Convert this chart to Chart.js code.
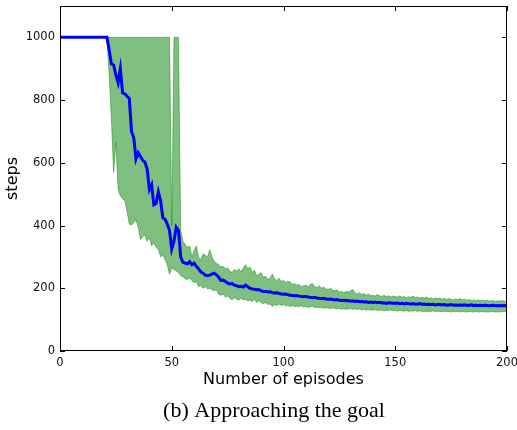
<!DOCTYPE html>
<html>
<head>
<meta charset="utf-8">
<script src="https://cdn.jsdelivr.net/npm/chart.js@4/dist/chart.umd.min.js"></script>
<style>
html,body{margin:0;padding:0;background:#fff;}
#wrap{position:relative;width:517px;height:430px;}
</style>
</head>
<body>
<div id="wrap"><canvas id="c" width="517" height="430"></canvas></div>
<script>
// ---- data ----
const episodes = Array.from({length: 201}, (_, i) => i);
const xTicks = [0, 50, 100, 150, 200];
const yTicks = [0, 200, 400, 600, 800, 1000];

const meanSteps = [
1000,1000,1000,1000,1000,1000,1000,1000,1000,1000,
1000,1000,1000,1000,1000,1000,1000,1000,1000,1000,
1000,1000,960,915,912,880,855,900,823,820,
812,805,700,680,612,632,620,608,602,580,
515,530,466,470,508,480,425,420,405,385,
325,350,395,385,300,283,280,278,285,275,
280,270,262,252,248,242,240,242,245,248,
243,235,225,226,222,216,214,215,210,208,
205,206,204,210,205,200,198,197,195,196,
192,190,190,188,189,186,185,186,183,182,
181,182,179,178,177,176,177,175,174,173,
174,172,171,170,171,169,168,167,168,166,
165,166,164,163,164,162,161,162,160,161,
159,160,158,159,157,158,156,157,155,156,
155,156,154,155,153,154,152,154,153,152,
152,153,151,152,150,152,151,150,151,149,
150,151,149,150,148,149,148,149,147,148,
148,147,148,146,147,148,146,147,146,147,
146,147,145,146,147,145,146,145,146,145,
146,145,144,145,146,144,145,144,145,144,
145
];

const upperSteps = [
1000,1000,1000,1000,1000,1000,1000,1000,1000,1000,
1000,1000,1000,1000,1000,1000,1000,1000,1000,1000,
1000,1000,1000,1000,1000,1000,1000,1000,1000,1000,
1000,1000,1000,1000,1000,1000,1000,1000,1000,1000,
1000,1000,1000,1000,1000,1000,1000,1000,1000,1000,
400,1000,1000,1000,385,350,340,330,335,300,
320,335,300,290,310,305,300,323,300,285,
280,275,268,270,262,265,255,250,260,255,
262,252,265,275,262,268,250,258,240,245,
250,235,238,228,232,245,230,225,232,222,
225,218,222,220,212,215,210,212,205,208,
210,205,212,215,205,202,208,200,204,198,
196,200,194,192,195,188,190,186,190,188,
192,196,185,182,186,180,183,178,182,176,
178,175,180,176,174,178,173,176,172,175,
174,172,176,171,174,170,173,171,175,170,
172,169,171,168,172,167,170,166,169,167,
168,165,168,164,167,165,163,166,164,167,
163,165,162,164,161,163,160,163,161,162,
160,162,159,161,160,158,160,159,161,158,
159
];

const lowerSteps = [
1000,1000,1000,1000,1000,1000,1000,1000,1000,1000,
1000,1000,1000,1000,1000,1000,1000,1000,1000,1000,
1000,1000,880,740,570,665,515,495,485,480,
445,405,402,410,418,395,355,365,370,350,
362,335,345,330,325,300,308,292,275,245,
265,260,255,250,240,237,230,228,232,225,
218,222,205,210,200,205,198,200,195,192,
195,180,178,182,172,175,168,163,170,165,
162,168,163,165,160,162,158,165,155,160,
155,150,155,148,150,142,148,145,150,145,
148,144,146,142,145,141,143,142,144,140,
142,139,141,143,138,140,137,139,136,138,
137,135,138,136,134,136,133,135,133,134,
136,133,135,132,134,131,133,130,132,131,
130,132,129,131,130,128,130,129,131,128,
129,127,130,128,127,129,126,128,127,129,
126,128,126,127,125,127,126,128,125,127,
126,125,127,125,126,124,126,125,127,124,
126,125,124,126,125,124,126,124,125,126,
124,125,124,126,125,124,125,124,126,125,
126
];

// ---- chart ----
const toPts = arr => arr.map((v, i) => ({x: episodes[i], y: v}));
const AREA = {left: 60, right: 507, top: 6, bottom: 351};

const framePlugin = {
  id: 'frame',
  afterDatasetsDraw(chart) {
    const ctx = chart.ctx;
    const xs = chart.scales.x, ys = chart.scales.y;
    const a = chart.chartArea;
    ctx.save();
    ctx.strokeStyle = '#000';
    ctx.lineWidth = 1;
    ctx.strokeRect(a.left + 0.5, a.top + 0.5, a.right - a.left - 1, a.bottom - a.top - 1);
    const tl = 5;
    ctx.beginPath();
    xTicks.forEach(v => {
      const px = Math.round(xs.getPixelForValue(v)) + 0.5;
      ctx.moveTo(px, a.bottom); ctx.lineTo(px, a.bottom - tl);
      ctx.moveTo(px, a.top); ctx.lineTo(px, a.top + tl);
    });
    yTicks.forEach(v => {
      const py = Math.round(ys.getPixelForValue(v)) + 0.5;
      ctx.moveTo(a.left, py); ctx.lineTo(a.left + tl, py);
      ctx.moveTo(a.right, py); ctx.lineTo(a.right - tl, py);
    });
    ctx.stroke();
    ctx.restore();
  },
  afterDraw(chart) {
    const ctx = chart.ctx;
    const a = chart.chartArea;
    ctx.save();
    ctx.fillStyle = '#000';
    ctx.textAlign = 'center';
    ctx.textBaseline = 'middle';
    ctx.font = '16px "DejaVu Sans"';
    ctx.fillText('Number of episodes', (a.left + a.right) / 2, 380);
    ctx.save();
    ctx.translate(13, (a.top + a.bottom) / 2);
    ctx.rotate(-Math.PI / 2);
    ctx.fillText('steps', 0, 0);
    ctx.restore();
    ctx.font = '22px "Liberation Serif"';
    ctx.fillText('(b) Approaching the goal', 274, 411);
    ctx.restore();
  }
};

new Chart(document.getElementById('c'), {
  type: 'line',
  data: {
    datasets: [
      {
        label: 'mean',
        data: toPts(meanSteps),
        borderColor: '#0000ff',
        borderWidth: 3,
        pointRadius: 0,
        fill: false,
        tension: 0,
        order: 0
      },
      {
        label: 'upper',
        data: toPts(upperSteps),
        borderColor: 'rgba(0,128,0,0.45)',
        borderWidth: 1,
        backgroundColor: 'rgba(0,128,0,0.5)',
        pointRadius: 0,
        fill: {target: 2},
        tension: 0,
        order: 1
      },
      {
        label: 'lower',
        data: toPts(lowerSteps),
        borderColor: 'rgba(0,128,0,0.45)',
        borderWidth: 1,
        pointRadius: 0,
        fill: false,
        tension: 0,
        order: 2
      }
    ]
  },
  options: {
    responsive: false,
    animation: false,
    devicePixelRatio: 1,
    layout: {padding: {left: 0, right: 517 - AREA.right, top: AREA.top, bottom: 0}},
    plugins: {legend: {display: false}, tooltip: {enabled: false}},
    scales: {
      x: {
        type: 'linear', min: 0, max: 200,
        grid: {display: false, drawTicks: false},
        border: {display: false},
        ticks: {padding: 5, color: '#111', maxRotation: 0, font: {family: 'DejaVu Sans', size: 11.5},
                callback: v => String(v)},
        afterBuildTicks: s => { s.ticks = xTicks.map(v => ({value: v})); },
        afterFit: s => { s.height = 430 - AREA.bottom; s.paddingLeft = 0; s.paddingRight = 0; }
      },
      y: {
        type: 'linear', min: 0, max: 1100,
        grid: {display: false, drawTicks: false},
        border: {display: false},
        ticks: {padding: 5, color: '#111', font: {family: 'DejaVu Sans', size: 11.5},
                callback: v => String(v)},
        afterBuildTicks: s => { s.ticks = yTicks.map(v => ({value: v})); },
        afterFit: s => { s.width = AREA.left; s.paddingTop = 0; s.paddingBottom = 0; }
      }
    }
  },
  plugins: [framePlugin]
});
</script>
</body>
</html>
